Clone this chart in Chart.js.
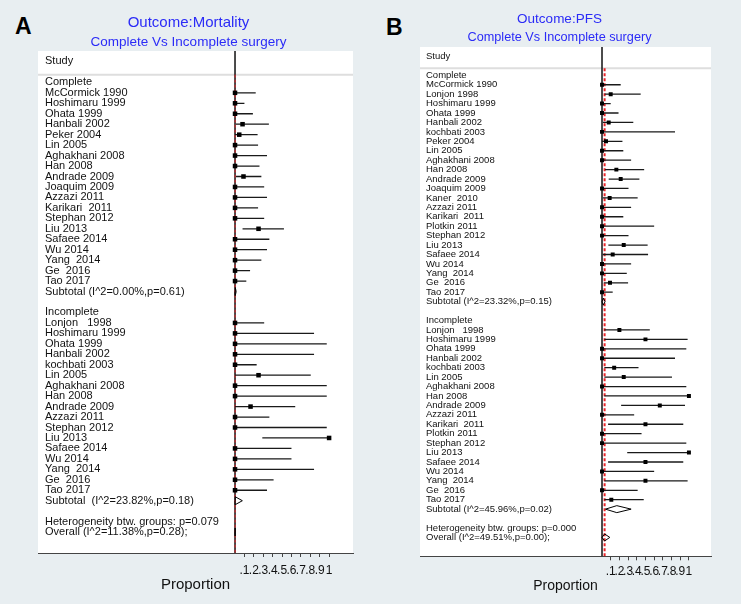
<!DOCTYPE html>
<html>
<head>
<meta charset="utf-8">
<script src="https://cdn.jsdelivr.net/npm/chart.js@4.4.1/dist/chart.umd.min.js"></script>
<style>
  body { margin: 0; background: #e8eef1; width: 741px; height: 604px; overflow: hidden; position: relative; font-family: "Liberation Sans", Arial, sans-serif; }
  .panel-letter { position: absolute; font-weight: bold; font-size: 23px; line-height: 23px; color: #000; }
  #chartA { position: absolute; left: 0; top: 0; }
  #chartB { position: absolute; left: 370px; top: 0; }
</style>
</head>
<body>
<div class="panel-letter" style="left:15px; top:15px;">A</div>
<div class="panel-letter" style="left:386px; top:16px;">B</div>
<canvas id="chartA" width="370" height="604"></canvas>
<canvas id="chartB" width="371" height="604"></canvas>
<script>
// Axis ticks (shared by both panels)
const xTickValues = [0.1, 0.2, 0.3, 0.4, 0.5, 0.6, 0.7, 0.8, 0.9, 1];
const xTickLabels = ['.1', '.2', '.3', '.4', '.5', '.6', '.7', '.8', '.9', '1'];

// Panel A - Mortality
const aCompleteStudies = ['McCormick 1990', 'Hoshimaru 1999', 'Ohata 1999', 'Hanbali 2002', 'Peker 2004', 'Lin 2005',
  'Aghakhani 2008', 'Han 2008', 'Andrade 2009', 'Joaquim 2009', 'Azzazi 2011', 'Karikari  2011', 'Stephan 2012',
  'Liu 2013', 'Safaee 2014', 'Wu 2014', 'Yang  2014', 'Ge  2016', 'Tao 2017'];
const aCompleteEst = [0, 0, 0, 0.08, 0.045, 0, 0, 0, 0.09, 0, 0, 0, 0, 0.25, 0, 0, 0, 0, 0];
const aCompleteLo  = [0, 0, 0, 0.01, 0, 0, 0, 0, 0.01, 0, 0, 0, 0, 0.08, 0, 0, 0, 0, 0];
const aCompleteHi  = [0.22, 0.10, 0.19, 0.36, 0.24, 0.245, 0.34, 0.26, 0.28, 0.31, 0.34, 0.245, 0.31, 0.52, 0.365, 0.34, 0.28, 0.16, 0.12];

const aIncompleteStudies = ['Lonjon   1998', 'Hoshimaru 1999', 'Ohata 1999', 'Hanbali 2002', 'kochbati 2003', 'Lin 2005',
  'Aghakhani 2008', 'Han 2008', 'Andrade 2009', 'Azzazi 2011', 'Stephan 2012', 'Liu 2013', 'Safaee 2014', 'Wu 2014',
  'Yang  2014', 'Ge  2016', 'Tao 2017'];
const aIncompleteEst = [0, 0, 0, 0, 0, 0.25, 0, 0, 0.165, 0, 0, 1, 0, 0, 0, 0, 0];
const aIncompleteLo  = [0, 0, 0, 0, 0, 0, 0, 0, 0, 0, 0, 0.29, 0, 0, 0, 0, 0];
const aIncompleteHi  = [0.31, 0.84, 0.975, 0.84, 0.23, 0.805, 0.975, 0.975, 0.64, 0.365, 0.975, 1, 0.60, 0.60, 0.84, 0.41, 0.34];

const aSubtotalText = ['Subtotal (I^2=0.00%,p=0.61)', 'Subtotal  (I^2=23.82%,p=0.18)'];
const aSubtotalEst = [0.003, 0.002];
const aSubtotalLo  = [0, 0];
const aSubtotalHi  = [0.012, 0.078];
const aOverallText = ['Heterogeneity btw. groups: p=0.079', 'Overall (I^2=11.38%,p=0.28);'];
const aOverall = [0.001, 0, 0.003]; // est, lo, hi

// Panel B - PFS
const bCompleteStudies = ['McCormick 1990', 'Lonjon 1998', 'Hoshimaru 1999', 'Ohata 1999', 'Hanbali 2002', 'kochbati 2003',
  'Peker 2004', 'Lin 2005', 'Aghakhani 2008', 'Han 2008', 'Andrade 2009', 'Joaquim 2009', 'Kaner  2010', 'Azzazi 2011',
  'Karikari  2011', 'Plotkin 2011', 'Stephan 2012', 'Liu 2013', 'Safaee 2014', 'Wu 2014', 'Yang  2014', 'Ge  2016', 'Tao 2017'];
const bCompleteEst = [0, 0.10, 0, 0, 0.077, 0, 0.046, 0, 0, 0.165, 0.215, 0, 0.088, 0, 0, 0, 0, 0.25, 0.123, 0, 0, 0.092, 0];
const bCompleteLo  = [0, 0.03, 0, 0, 0.01, 0, 0, 0, 0, 0.035, 0.077, 0, 0.01, 0, 0, 0, 0, 0.073, 0.008, 0, 0, 0.02, 0];
const bCompleteHi  = [0.215, 0.445, 0.10, 0.19, 0.36, 0.84, 0.235, 0.245, 0.335, 0.485, 0.43, 0.305, 0.41, 0.335, 0.245, 0.60, 0.305, 0.525, 0.53, 0.335, 0.285, 0.30, 0.123];

const bIncompleteStudies = ['Lonjon   1998', 'Hoshimaru 1999', 'Ohata 1999', 'Hanbali 2002', 'kochbati 2003', 'Lin 2005',
  'Aghakhani 2008', 'Han 2008', 'Andrade 2009', 'Azzazi 2011', 'Karikari  2011', 'Plotkin 2011', 'Stephan 2012', 'Liu 2013',
  'Safaee 2014', 'Wu 2014', 'Yang  2014', 'Ge  2016', 'Tao 2017'];
const bIncompleteEst = [0.20, 0.50, 0, 0, 0.14, 0.25, 0, 1, 0.665, 0, 0.50, 0, 0, 1, 0.50, 0, 0.50, 0, 0.107];
const bIncompleteLo  = [0.027, 0.027, 0, 0, 0.027, 0.027, 0, 0.027, 0.22, 0, 0.07, 0, 0, 0.29, 0.07, 0, 0.027, 0, 0.027];
const bIncompleteHi  = [0.55, 0.985, 0.97, 0.84, 0.42, 0.805, 0.97, 1, 0.955, 0.37, 0.935, 0.455, 0.97, 1, 0.935, 0.60, 0.985, 0.41, 0.48];

const bSubtotalText = ['Subtotal (I^2=23.32%,p=0.15)', 'Subtotal (I^2=45.96%,p=0.02)'];
const bSubtotalEst = [0.015, 0.17];
const bSubtotalLo  = [0, 0.04];
const bSubtotalHi  = [0.035, 0.335];
const bOverallText = ['Heterogeneity btw. groups: p=0.000', 'Overall (I^2=49.51%,p=0.00);'];
const bOverall = [0.03, 0, 0.09]; // est, lo, hi

const FONT = "'Liberation Sans', Arial, sans-serif";
const BLUE = '#2b2bf7';
const X_MIN = -2.094;
const X_MAX = 1.254;
const SEPARATOR = -0.74;

Chart.defaults.font.family = FONT;

// white plot area + grey line under the "Study" header
const plotBackground = {
  id: 'plotBackground',
  beforeDraw(chart, args, opts) {
    const { ctx, chartArea: a, scales } = chart;
    ctx.save();
    ctx.fillStyle = '#ffffff';
    ctx.fillRect(a.left, a.top, a.width, a.height);
    const y = scales.y.getPixelForValue(opts.separator);
    ctx.strokeStyle = '#dedede';
    ctx.lineWidth = 2;
    ctx.beginPath();
    ctx.moveTo(a.left, y);
    ctx.lineTo(a.right, y);
    ctx.stroke();
    ctx.restore();
  }
};

function buildRows(complete, incomplete, subtotalText, overallText) {
  const rows = [{ y: -2, text: 'Study' }, { y: 0, text: 'Complete' }];
  complete.forEach((n, i) => rows.push({ y: i + 1, text: n }));
  const sub1 = complete.length + 1;
  rows.push({ y: sub1, text: subtotalText[0] });
  const inc = sub1 + 2;
  rows.push({ y: inc, text: 'Incomplete' });
  incomplete.forEach((n, i) => rows.push({ y: inc + 1 + i, text: n }));
  const sub2 = inc + incomplete.length + 1;
  rows.push({ y: sub2, text: subtotalText[1] });
  rows.push({ y: sub2 + 2, text: overallText[0] });
  rows.push({ y: sub2 + 3, text: overallText[1] });
  return { rows, sub1, inc, sub2, overall: sub2 + 3 };
}

function makeForest(canvasId, cfg) {
  const layout = buildRows(cfg.complete, cfg.incomplete, cfg.subtotalText, cfg.overallText);
  const ciPoints = [];
  const squares = [];
  const diamonds = [];

  const addStudies = (est, lo, hi, firstRow) => {
    est.forEach((e, i) => {
      const y = firstRow + i;
      ciPoints.push({ x: lo[i], y }, { x: hi[i], y }, { x: null, y: null });
      squares.push({ x: e, y });
    });
  };
  addStudies(cfg.completeEst, cfg.completeLo, cfg.completeHi, 1);
  addStudies(cfg.incompleteEst, cfg.incompleteLo, cfg.incompleteHi, layout.inc + 1);

  const addDiamond = (est, lo, hi, y) => {
    const h = cfg.diamondHalf;
    diamonds.push({ x: lo, y }, { x: est, y: y - h }, { x: hi, y }, { x: est, y: y + h }, { x: lo, y }, { x: null, y: null });
  };
  addDiamond(cfg.subtotalEst[0], cfg.subtotalLo[0], cfg.subtotalHi[0], layout.sub1);
  addDiamond(cfg.subtotalEst[1], cfg.subtotalLo[1], cfg.subtotalHi[1], layout.sub2);
  addDiamond(cfg.overall[0], cfg.overall[1], cfg.overall[2], layout.overall);

  const yMin = -3;
  const yMax = cfg.yMax;

  return new Chart(document.getElementById(canvasId), {
    type: 'scatter',
    data: {
      datasets: [
        { data: squares, pointStyle: 'rect', pointRadius: cfg.squareRadius, backgroundColor: '#000', borderWidth: 0, order: 1 },
        { data: ciPoints, showLine: true, spanGaps: false, borderColor: '#1a1a1a', borderWidth: 1.3, pointRadius: 0, order: 2 },
        { data: diamonds, showLine: true, spanGaps: false, borderColor: '#000', borderWidth: 1, pointRadius: 0, order: 2 },
        { data: [{ x: cfg.overall[0], y: SEPARATOR }, { x: cfg.overall[0], y: yMax }], showLine: true,
          borderColor: '#e8262a', borderWidth: cfg.redWidth, borderDash: [3, 2], pointRadius: 0, order: 3 },
        { data: [{ x: 0, y: yMin }, { x: 0, y: yMax }], showLine: true,
          borderColor: '#111', borderWidth: 1.5, pointRadius: 0, order: 4 }
      ]
    },
    options: {
      responsive: false,
      animation: false,
      devicePixelRatio: 1,
      // the mirrored y axis still reserves twice its tick padding on the left
      layout: { padding: { left: cfg.padLeft - 2 * cfg.labelPad, right: cfg.padRight, top: 0, bottom: cfg.padBottom } },
      plugins: {
        legend: { display: false },
        tooltip: { enabled: false },
        title: {
          display: true, text: cfg.title, color: BLUE,
          font: { size: cfg.titleSize, weight: 'normal', lineHeight: 1.2 },
          padding: cfg.titlePad
        },
        subtitle: {
          display: true, text: 'Complete Vs Incomplete surgery', color: BLUE,
          font: { size: cfg.subtitleSize, weight: 'normal', lineHeight: 1.2 },
          padding: cfg.subtitlePad
        },
        plotBackground: { separator: SEPARATOR }
      },
      scales: {
        x: {
          type: 'linear', position: 'bottom', min: X_MIN, max: X_MAX,
          afterBuildTicks: (s) => { s.ticks = xTickValues.map(v => ({ value: v })); },
          ticks: {
            autoSkip: false, maxRotation: 0, minRotation: 0, padding: cfg.xTickPad, color: '#111',
            font: { size: 12, lineHeight: 1 },
            callback: (v, i) => xTickLabels[i]
          },
          grid: { drawOnChartArea: false, drawTicks: true, tickLength: 4, color: '#444' },
          border: { display: true, color: '#444', width: 1 },
          title: {
            display: true, text: 'Proportion', color: '#111',
            font: { size: cfg.axisTitleSize, lineHeight: 1 },
            padding: { top: cfg.axisTitleTop, bottom: 0 }
          }
        },
        y: {
          type: 'linear', position: 'left', reverse: true, min: yMin, max: yMax,
          afterBuildTicks: (s) => { s.ticks = layout.rows.map(r => ({ value: r.y })); },
          ticks: {
            mirror: true, padding: cfg.labelPad, autoSkip: false, color: '#111',
            font: { size: cfg.labelSize, lineHeight: 1.2 },
            callback: (v, i) => layout.rows[i].text
          },
          grid: { display: false, drawTicks: false },
          border: { display: false }
        }
      }
    },
    plugins: [plotBackground]
  });
}

makeForest('chartA', {
  title: 'Outcome:Mortality',
  complete: aCompleteStudies, completeEst: aCompleteEst, completeLo: aCompleteLo, completeHi: aCompleteHi,
  incomplete: aIncompleteStudies, incompleteEst: aIncompleteEst, incompleteLo: aIncompleteLo, incompleteHi: aIncompleteHi,
  subtotalText: aSubtotalText, subtotalEst: aSubtotalEst, subtotalLo: aSubtotalLo, subtotalHi: aSubtotalHi,
  overallText: aOverallText, overall: aOverall,
  yMax: 45, padLeft: 38, padRight: 17, padBottom: 11.5, labelPad: 7, labelSize: 11,
  titleSize: 15, subtitleSize: 13.5, titlePad: { top: 14, bottom: 1 }, subtitlePad: { top: 1, bottom: 0.8 },
  xTickPad: 8, axisTitleSize: 15, axisTitleTop: -7.5, squareRadius: 3.2, diamondHalf: 0.38, redWidth: 1
});

makeForest('chartB', {
  title: 'Outcome:PFS',
  complete: bCompleteStudies, completeEst: bCompleteEst, completeLo: bCompleteLo, completeHi: bCompleteHi,
  incomplete: bIncompleteStudies, incompleteEst: bIncompleteEst, incompleteLo: bIncompleteLo, incompleteHi: bIncompleteHi,
  subtotalText: bSubtotalText, subtotalEst: bSubtotalEst, subtotalLo: bSubtotalLo, subtotalHi: bSubtotalHi,
  overallText: bOverallText, overall: bOverall,
  yMax: 51, padLeft: 50, padRight: 30, padBottom: 11, labelPad: 6, labelSize: 9.5,
  titleSize: 13.5, subtitleSize: 12.7, titlePad: { top: 11.5, bottom: 1 }, subtitlePad: { top: 1, bottom: 2.06 },
  xTickPad: 5.7, axisTitleSize: 14, axisTitleTop: -4.7, squareRadius: 2.8, diamondHalf: 0.37, redWidth: 2
});
</script>
</body>
</html>
